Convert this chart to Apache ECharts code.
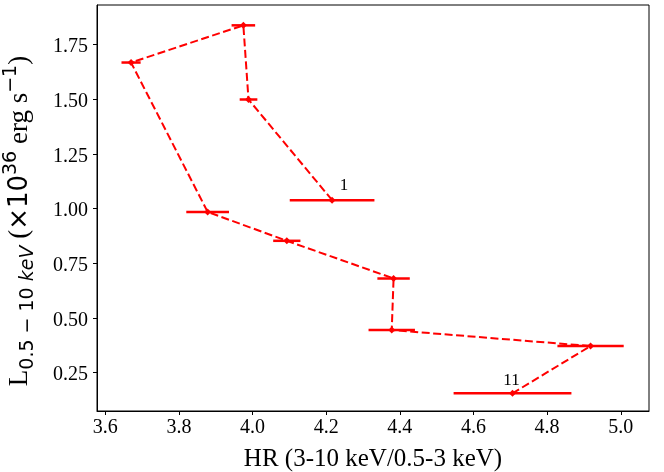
<!DOCTYPE html>
<html>
<head>
<meta charset="utf-8">
<script src="https://cdn.jsdelivr.net/npm/echarts@6/dist/echarts.min.js"></script>
<style>
html,body{margin:0;padding:0;background:#fff;}
#chart{width:664px;height:472px;}
</style>
</head>
<body>
<div id="chart"></div>
<script>
// Data
const hr = [4.216, 3.989, 3.975, 3.670, 3.878, 4.093, 4.383, 4.378, 4.918, 4.706];
const lum = [1.039, 1.499, 1.838, 1.668, 0.985, 0.853, 0.681, 0.445, 0.372, 0.156];
const hrErr = [0.115, 0.024, 0.032, 0.026, 0.058, 0.037, 0.044, 0.063, 0.090, 0.160];
const pointLabels = ['1', '', '', '', '', '', '', '', '', '11'];
const xTicks = [3.6, 3.8, 4.0, 4.2, 4.4, 4.6, 4.8, 5.0];
const yTicks = [0.25, 0.5, 0.75, 1.0, 1.25, 1.5, 1.75];

const serif = '"Liberation Serif", "Times New Roman", serif';
const sans = '"DejaVu Sans", sans-serif';
const labelOffsets = { '1': [12, -15], '11': [-1, -13] };

const lineData = hr.map((x, i) => {
  const item = { value: [x, lum[i]] };
  if (pointLabels[i]) {
    item.label = {
      show: true,
      formatter: pointLabels[i],
      position: 'inside',
      offset: labelOffsets[pointLabels[i]] || [0, -14],
      fontFamily: serif,
      fontSize: 17,
      color: '#000'
    };
  }
  return item;
});
const errData = hr.map((x, i) => [x, lum[i], hrErr[i]]);

const chart = echarts.init(document.getElementById('chart'), null, { renderer: 'canvas' });
chart.setOption({
  animation: false,
  backgroundColor: '#fff',
  grid: {
    left: 97, top: 5, width: 552, height: 406,
    containLabel: false,
    outerBoundsMode: 'none',
    show: true, borderColor: '#000', borderWidth: 1, backgroundColor: 'transparent'
  },
  xAxis: {
    type: 'value',
    min: 3.5775, max: 5.0767,
    name: 'HR (3-10 keV/0.5-3 keV)',
    nameLocation: 'middle',
    nameGap: 36,
    nameTextStyle: { fontFamily: serif, fontSize: 25, color: '#000' },
    axisLine: { show: true, lineStyle: { color: '#000', width: 1 } },
    axisTick: { show: true, inside: false, length: 4, lineStyle: { color: '#000' }, customValues: xTicks },
    axisLabel: {
      customValues: xTicks,
      formatter: v => v.toFixed(1),
      fontFamily: serif, fontSize: 20, color: '#000', margin: 7
    },
    splitLine: { show: false }
  },
  yAxis: {
    type: 'value',
    min: 0.075, max: 1.931,
    name: '{L|L}{sub|0.5 − 10 }{subi|keV}{p| (}{sx|×10}{sup|36}{p| erg s}{sup|−1}{p|)}',
    nameLocation: 'middle',
    nameRotate: 90,
    nameGap: 59,
    nameTextStyle: {
      color: '#000',
      padding: [0, 26, 0, 0],
      rich: {
        L: { fontFamily: serif, fontSize: 27, lineHeight: 36, verticalAlign: 'middle', color: '#000' },
        p: { fontFamily: serif, fontSize: 27, lineHeight: 36, verticalAlign: 'middle', color: '#000' },
        sx: { fontFamily: sans, fontSize: 26, lineHeight: 36, verticalAlign: 'middle', color: '#000' },
        sub: { fontFamily: sans, fontSize: 19, lineHeight: 19, verticalAlign: 'bottom', color: '#000' },
        subi: { fontFamily: sans, fontStyle: 'italic', fontSize: 19, lineHeight: 19, verticalAlign: 'bottom', color: '#000' },
        sup: { fontFamily: sans, fontSize: 19, lineHeight: 19, verticalAlign: 'top', color: '#000' }
      }
    },
    axisLine: { show: true, lineStyle: { color: '#000', width: 1 } },
    axisTick: { show: true, inside: false, length: 4, lineStyle: { color: '#000' }, customValues: yTicks },
    axisLabel: {
      customValues: yTicks,
      formatter: v => '{t|' + v.toFixed(2) + '}',
      fontFamily: serif, fontSize: 20, color: '#000', margin: 9,
      rich: {
        t: { fontFamily: serif, fontSize: 20, color: '#000', lineHeight: 22, padding: [5, 0, 0, 0] }
      }
    },
    splitLine: { show: false }
  },
  series: [
    {
      type: 'custom',
      data: errData,
      z: 3,
      renderItem: function (params, api) {
        const x = api.value(0), y = api.value(1), e = api.value(2);
        const p1 = api.coord([x - e, y]);
        const p2 = api.coord([x + e, y]);
        return {
          type: 'line',
          shape: { x1: p1[0], y1: p1[1], x2: p2[0], y2: p2[1] },
          style: { stroke: '#ff0000', lineWidth: 2.5 }
        };
      }
    },
    {
      type: 'line',
      data: lineData,
      z: 4,
      symbol: 'diamond',
      symbolSize: 7,
      itemStyle: { color: '#ff0000' },
      lineStyle: { color: '#ff0000', width: 2, type: [8, 3.5] }
    }
  ]
});
</script>
</body>
</html>
